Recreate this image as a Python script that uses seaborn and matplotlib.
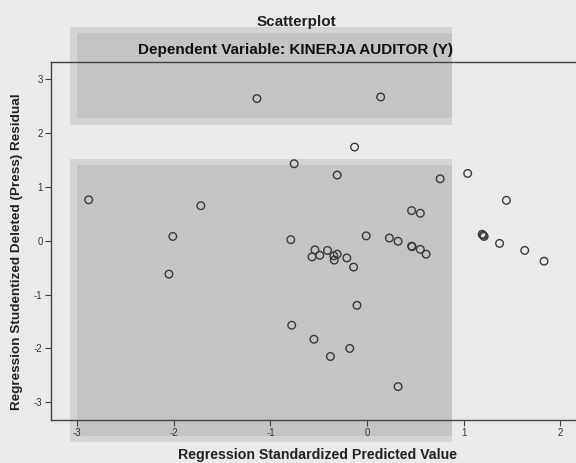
import matplotlib
matplotlib.use("Agg")
import matplotlib.pyplot as plt
import seaborn as sns
import pandas as pd
from matplotlib.patches import Rectangle

predicted = [-2.88, -1.72, -2.01, -2.05, -0.755, -0.79, -0.54, -0.57, -0.49, -0.41,
             -0.31, -0.345, -0.34, -0.21, -0.14, -0.01, 0.23, 0.32, 0.46, 0.465,
             0.55, 0.61, 0.46, 0.55, 0.755, 1.04, 1.44, 1.19, 1.21, 1.20,
             1.37, 1.63, 1.83, -0.13, -0.31, -1.14, 0.14, -0.105, -0.78, -0.55,
             -0.38, -0.18, 0.32]
residual = [0.76, 0.65, 0.08, -0.62, 1.43, 0.02, -0.17, -0.30, -0.27, -0.18,
            -0.25, -0.28, -0.36, -0.32, -0.49, 0.09, 0.05, -0.01, -0.10, -0.11,
            -0.16, -0.25, 0.56, 0.51, 1.15, 1.25, 0.75, 0.12, 0.08, 0.10,
            -0.05, -0.18, -0.38, 1.74, 1.22, 2.64, 2.67, -1.20, -1.57, -1.83,
            -2.15, -2.00, -2.71]
x_ticks = [-3, -2, -1, 0, 1, 2]
y_ticks = [-3, -2, -1, 0, 1, 2, 3]

df = pd.DataFrame({"pred": predicted, "res": residual})

sns.set_theme(style="white")
plt.rcParams["font.family"] = ["Liberation Sans", "DejaVu Sans"]

W, H = 576, 463
fig = plt.figure(figsize=(W / 100, H / 100), dpi=100)
fig.patch.set_facecolor("#eaeaea")

def frect(x0, y0, x1, y1, color):
    # pixel coords (top-left origin) -> figure fraction
    fig.patches.append(Rectangle((x0 / W, 1 - y1 / H), (x1 - x0) / W, (y1 - y0) / H,
                                 transform=fig.transFigure, facecolor=color,
                                 edgecolor="none", zorder=-5))

# shaded overlay panels
frect(70, 27, 452, 125, "#d4d4d4")
frect(77, 33, 452, 118, "#c4c4c4")
frect(70, 159, 452, 442, "#d4d4d4")
frect(77, 165, 452, 436, "#c4c4c4")

ax = fig.add_axes([51 / W, 1 - 420 / H, 1 - 51 / W + 0.01, (420 - 62) / H])
ax.set_facecolor("none")
ax.set_zorder(2)

sns.scatterplot(data=df, x="pred", y="res", ax=ax, marker="o", s=30,
                facecolor="none", edgecolor="#3a3a3a", linewidth=1.0, zorder=3)

ax.set_xlim(-3.27, 2.22)
ax.set_ylim(-3.33, 3.32)
ax.set_xticks(x_ticks)
ax.set_yticks(y_ticks)
ax.set_xticklabels([str(t) for t in x_ticks])
ax.set_yticklabels([str(t) for t in y_ticks])
ax.tick_params(axis="both", direction="out", length=4, width=0.8, color="#444444",
               labelsize=7, labelcolor="#333333", pad=2,
               bottom=True, left=True)
for side in ["left", "bottom", "top"]:
    ax.spines[side].set_visible(True)
    ax.spines[side].set_color("#444444")
    ax.spines[side].set_linewidth(1.0)
ax.spines["right"].set_visible(False)

ax.set_xlabel("")
ax.set_ylabel("")

fig.text(296 / W, 1 - 22 / H, "Scatterplot", ha="center", va="center",
         fontsize=11, fontweight="bold", color="#222222", zorder=5)
fig.text(296 / W, 1 - 50 / H, "Dependent Variable: KINERJA AUDITOR (Y)", ha="center",
         va="center", fontsize=11, fontweight="bold", color="#111111", zorder=5)
fig.text(317 / W, 1 - 455 / H, "Regression Standardized Predicted Value", ha="center",
         va="center", fontsize=10.2, fontweight="bold", color="#222222", zorder=5)
fig.text(17 / W, 1 - 252 / H, "Regression Studentized Deleted (Press) Residual",
         ha="center", va="center", rotation=90, fontsize=9.7, fontweight="bold",
         color="#222222", zorder=5)

fig.savefig("out.png", dpi=100, facecolor=fig.get_facecolor())
